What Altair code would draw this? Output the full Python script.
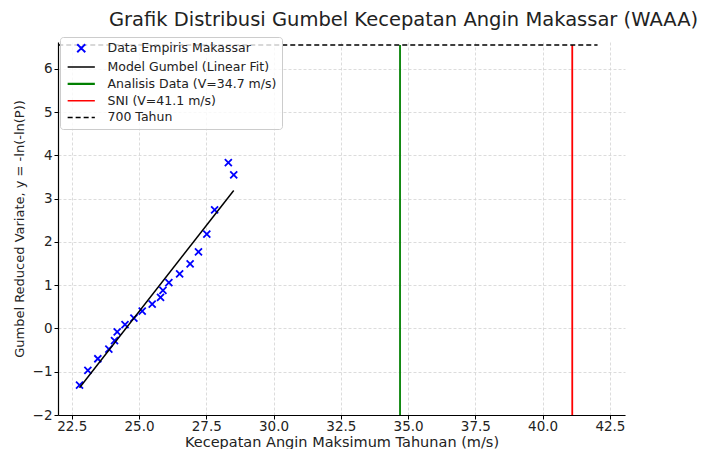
import altair as alt
import pandas as pd

# ---- data ----
emp_x = [22.79, 23.10, 23.47, 23.88, 24.09, 24.19, 24.48, 24.81, 25.12, 25.49,
         25.80, 25.89, 26.11, 26.51, 26.90, 27.21, 27.52, 27.81, 28.32, 28.52]
emp_y = [-1.31, -0.97, -0.70, -0.48, -0.28, -0.08, 0.09, 0.24, 0.40, 0.56,
         0.72, 0.88, 1.06, 1.26, 1.49, 1.77, 2.18, 2.74, 3.83, 3.55]
fit_x = [22.79, 28.52]
fit_y = [-1.37, 3.19]
v_analisis = 34.7
v_sni = 41.1
y_700 = 6.55
h700_x = [22.0, 42.04]
y_bottom = -2.0

series = ["Data Empiris Makassar", "Model Gumbel (Linear Fit)",
          "Analisis Data (V=34.7 m/s)", "SNI (V=41.1 m/s)", "700 Tahun"]
colors = ["#0000ff", "#000000", "#008000", "#ff0000", "#000000"]

x_ticks = [22.5, 25.0, 27.5, 30.0, 32.5, 35.0, 37.5, 40.0, 42.5]
y_ticks = [-2, -1, 0, 1, 2, 3, 4, 5, 6]
x_domain = [21.99, 43.06]
y_domain = [-2.0, 6.62]

emp = pd.DataFrame({"x": emp_x, "y": emp_y, "s": series[0]})
fit = pd.DataFrame({"x": fit_x, "y": fit_y, "s": series[1]})
vl = pd.DataFrame({"x": [v_analisis, v_sni], "y": [y_bottom, y_bottom],
                   "y2": [y_700, y_700], "s": [series[2], series[3]]})
hl = pd.DataFrame({"x": [h700_x[0]], "x2": [h700_x[1]], "y": [y_700], "s": [series[4]]})

XSHAPE = "M-1,-1L1,1M1,-1L-1,1"
LSHAPE = "M-3.4,0L3.4,0"

legend = alt.Legend(
    title=None, orient="none", legendX=2, legendY=-5,
    padding=5, rowPadding=3.8, labelFontSize=12.5, labelColor="#222",
    labelFont="DejaVu Sans", labelLimit=400, symbolSize=64, symbolOffset=10,
    labelOffset=20, cornerRadius=3, strokeColor="#cccccc",
    fillColor="rgba(255,255,255,0.8)",
    symbolFillColor="transparent", symbolOpacity=1,
    symbolType=alt.ExprRef(f"datum.value === '{series[0]}' ? '{XSHAPE}' : '{LSHAPE}'"),
    symbolDash=alt.ExprRef(f"datum.value === '{series[4]}' ? [5,3] : [1,0]"),
    symbolStrokeWidth=alt.ExprRef(f"datum.value === '{series[0]}' ? 2 : (datum.value === '{series[2]}' ? 2.2 : 1.5)"),
)

color = alt.Color("s:N", scale=alt.Scale(domain=series, range=colors), legend=legend)

xs = alt.Scale(domain=x_domain, nice=False, zero=False)
ys = alt.Scale(domain=y_domain, nice=False, zero=False)

xaxis = alt.Axis(title="Kecepatan Angin Maksimum Tahunan (m/s)", values=x_ticks, format=".1f",
                 labelFontSize=13.5, titleFontSize=14.5, labelPadding=0, titlePadding=3)
yaxis = alt.Axis(title="Gumbel Reduced Variate, y = -ln(-ln(P))", values=y_ticks, format="d",
                 labelFontSize=13.5, titleFontSize=13, labelPadding=2, titlePadding=6)

pts = alt.Chart(emp).mark_point(shape=XSHAPE, filled=False, size=49, strokeWidth=1.8, opacity=1).encode(
    x=alt.X("x:Q", scale=xs, axis=xaxis), y=alt.Y("y:Q", scale=ys, axis=yaxis), color=color)

line = alt.Chart(fit).mark_line(strokeWidth=1.5).encode(
    x=alt.X("x:Q", scale=xs), y=alt.Y("y:Q", scale=ys), color=color)

vrules = alt.Chart(vl).mark_rule(strokeWidth=1.8).encode(
    x=alt.X("x:Q", scale=xs), y=alt.Y("y:Q", scale=ys), y2="y2:Q", color=color)

hrule = alt.Chart(hl).mark_rule(strokeWidth=1.5, strokeDash=[5, 3]).encode(
    x=alt.X("x:Q", scale=xs), x2="x2:Q", y=alt.Y("y:Q", scale=ys), color=color)

chart = alt.layer(pts, vrules, hrule, line).properties(
    width=567, height=373,
    title=alt.TitleParams("Grafik Distribusi Gumbel Kecepatan Angin Makassar (WAAA)",
                          fontSize=19.5, font="DejaVu Sans", fontWeight="normal",
                          color="#222", dx=62, offset=6),
    padding={"left": 5, "top": 2, "right": 3, "bottom": 0},
).configure_view(stroke=None).configure_axis(
    labelFont="DejaVu Sans", titleFont="DejaVu Sans",
    titleFontWeight="normal", labelColor="#222", titleColor="#222",
    domainColor="#000", domainWidth=1.2, tickColor="#000", tickSize=4, tickWidth=1,
    gridColor="#d3d3d3", gridDash=[3, 2], gridWidth=0.8,
)

chart.save("out.html", embed_options={"renderer": "svg", "actions": False})
